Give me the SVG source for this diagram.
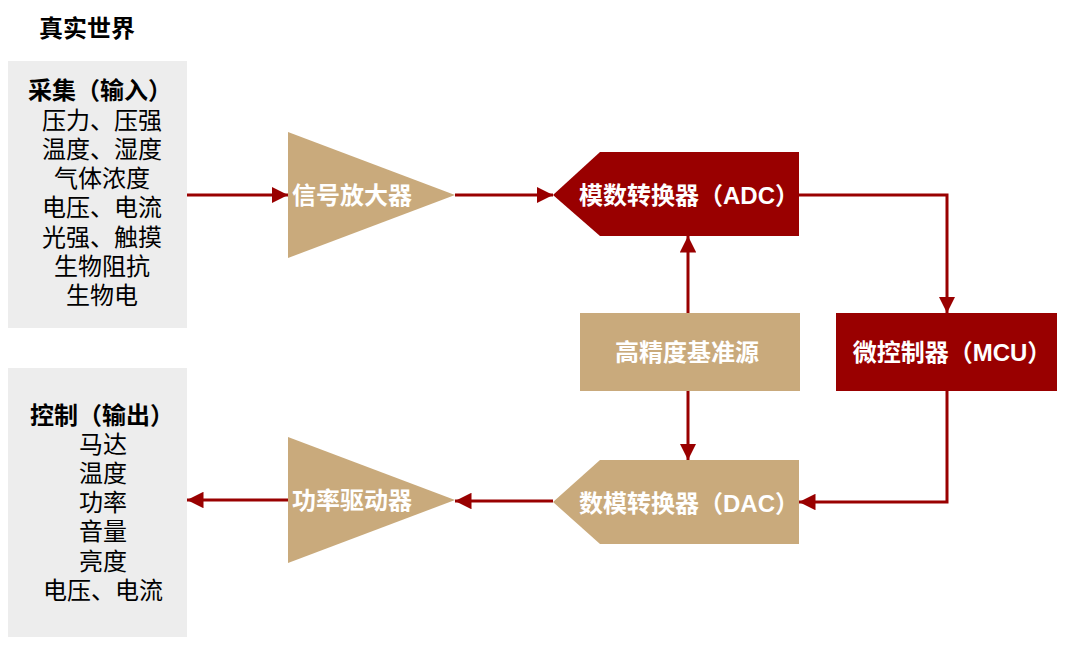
<svg xmlns="http://www.w3.org/2000/svg" width="1067" height="651" viewBox="0 0 1067 651">
<style>
text{font-family:"Liberation Sans","Noto Sans CJK SC",sans-serif;}
.t{font-size:24px;fill:#000;text-anchor:middle;}
.b{font-weight:bold;}
.w{font-size:24px;fill:#fff;font-weight:bold;text-anchor:middle;}
.ln{stroke:#990000;stroke-width:3;fill:none;}
.red{fill:#990000;}
.tan{fill:#c9aa7c;}
.gray{fill:#ededed;}
</style>
<defs>
<marker id="ah" viewBox="0 0 10 10" refX="10" refY="5" markerWidth="5.5" markerHeight="5.5" orient="auto" markerUnits="strokeWidth">
<path d="M0,0 L10,5 L0,10 z" fill="#990000"/>
</marker>
</defs>
<g id="title"><text class="t b" x="87" y="37">真实世界</text></g>
<g id="input">
<rect class="gray" x="8" y="61" width="179" height="267"/>
<text class="t b" x="100" y="99">采集（输入）</text>
<text class="t" x="102" y="129">压力、压强</text>
<text class="t" x="102" y="158">温度、湿度</text>
<text class="t" x="102" y="187">气体浓度</text>
<text class="t" x="102" y="216">电压、电流</text>
<text class="t" x="102" y="246">光强、触摸</text>
<text class="t" x="102" y="275">生物阻抗</text>
<text class="t" x="102" y="304">生物电</text>
</g>
<g id="output">
<rect class="gray" x="8" y="368" width="179" height="269"/>
<text class="t b" x="102" y="424">控制（输出）</text>
<text class="t" x="103" y="453">马达</text>
<text class="t" x="103" y="482">温度</text>
<text class="t" x="103" y="511">功率</text>
<text class="t" x="103" y="540">音量</text>
<text class="t" x="103" y="570">亮度</text>
<text class="t" x="103" y="599">电压、电流</text>
</g>
<g id="amp">
<polygon class="tan" points="288,132 455,195 288,258"/>
<text class="w" x="352" y="204">信号放大器</text>
</g>
<g id="adc">
<polygon class="red" points="600,152 799,152 799,236 600,236 553,195"/>
<text class="w" x="689" y="204">模数转换器（ADC）</text>
</g>
<g id="ref">
<rect class="tan" x="580" y="313" width="220" height="78"/>
<text class="w" x="687" y="361">高精度基准源</text>
</g>
<g id="mcu">
<rect class="red" x="836" y="313" width="221" height="78"/>
<text class="w" x="952" y="361">微控制器（MCU）</text>
</g>
<g id="dac">
<polygon class="tan" points="600,460 799,460 799,544 600,544 553,502"/>
<text class="w" x="689" y="512">数模转换器（DAC）</text>
</g>
<g id="drv">
<polygon class="tan" points="288,437 455,500 288,563"/>
<text class="w" x="352" y="509">功率驱动器</text>
</g>
<g id="connectors">
<line class="ln" x1="187" y1="195" x2="288" y2="195" marker-end="url(#ah)"/>
<line class="ln" x1="455" y1="195" x2="553" y2="195" marker-end="url(#ah)"/>
<polyline class="ln" points="799,195 947,195 947,313" marker-end="url(#ah)"/>
<line class="ln" x1="688" y1="313" x2="688" y2="236" marker-end="url(#ah)"/>
<line class="ln" x1="688" y1="391" x2="688" y2="460" marker-end="url(#ah)"/>
<polyline class="ln" points="947,391 947,502 799,502" marker-end="url(#ah)"/>
<line class="ln" x1="553" y1="501" x2="455" y2="501" marker-end="url(#ah)"/>
<line class="ln" x1="288" y1="500" x2="187" y2="500" marker-end="url(#ah)"/>
</g>
</svg>
